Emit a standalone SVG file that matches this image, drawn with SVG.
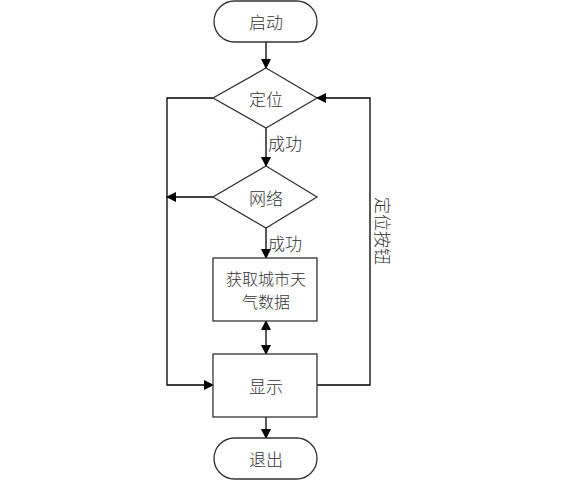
<svg xmlns="http://www.w3.org/2000/svg" width="564" height="492" viewBox="0 0 564 492">
<defs>
<marker id="ah" markerWidth="10" markerHeight="10" refX="9" refY="5" orient="auto" markerUnits="userSpaceOnUse">
<path d="M0,0 L10,5 L0,10 Z" fill="#000"/>
</marker>
<marker id="as" markerWidth="10" markerHeight="10" refX="1" refY="5" orient="auto" markerUnits="userSpaceOnUse">
<path d="M10,0 L0,5 L10,10 Z" fill="#000"/>
</marker>
<style>
.s{fill:#fff;stroke:#333;stroke-width:1.3}
.t{font-family:"Noto Sans CJK SC","Noto Sans",sans-serif;font-size:17px;font-weight:300;fill:#333;text-anchor:middle;dominant-baseline:central}
.f{font-size:16px}
.c{fill:none;stroke:#000;stroke-width:1.3}
</style>
</defs>
<rect width="564" height="492" fill="#fff"/>
<g id="connectors">
<line class="c" x1="266" y1="42" x2="266" y2="68" marker-end="url(#ah)"/>
<line class="c" x1="266" y1="128" x2="266" y2="166" marker-end="url(#ah)"/>
<polyline class="c" points="213,98 167,98 167,385 213,385" marker-end="url(#ah)"/>
<line class="c" x1="213" y1="197" x2="167" y2="197" marker-end="url(#ah)"/>
<polyline class="c" points="317,385 370,385 370,98 317,98" marker-end="url(#ah)"/>
<line class="c" x1="266" y1="228" x2="266" y2="258" marker-end="url(#ah)"/>
<line class="c" x1="266" y1="321" x2="266" y2="354" marker-start="url(#as)" marker-end="url(#ah)"/>
<line class="c" x1="266" y1="417" x2="266" y2="438" marker-end="url(#ah)"/>
<text class="t" x="285" y="142">成功</text>
<text class="t" x="285" y="242">成功</text>
<text class="t" x="383" y="231" transform="rotate(90 383 231)">定位按钮</text>
</g>
<g id="start"><rect class="s" x="214" y="1" width="103" height="41" rx="20.5"/><text class="t" x="266" y="21">启动</text></g>
<g id="locate"><polygon class="s" points="266,68 317,98 266,128 213,98"/><text class="t" x="266" y="98">定位</text></g>
<g id="network"><polygon class="s" points="266,166 317,197 266,228 213,197"/><text class="t" x="266" y="197">网络</text></g>
<g id="fetch"><rect class="s" x="213" y="258" width="104" height="63"/><text class="t f" x="266" y="278">获取城市天</text><text class="t f" x="266" y="301">气数据</text></g>
<g id="display"><rect class="s" x="213" y="354" width="104" height="63"/><text class="t" x="266" y="385">显示</text></g>
<g id="exit"><rect class="s" x="214" y="438" width="103" height="41" rx="20.5"/><text class="t" x="266" y="458">退出</text></g>
</svg>
